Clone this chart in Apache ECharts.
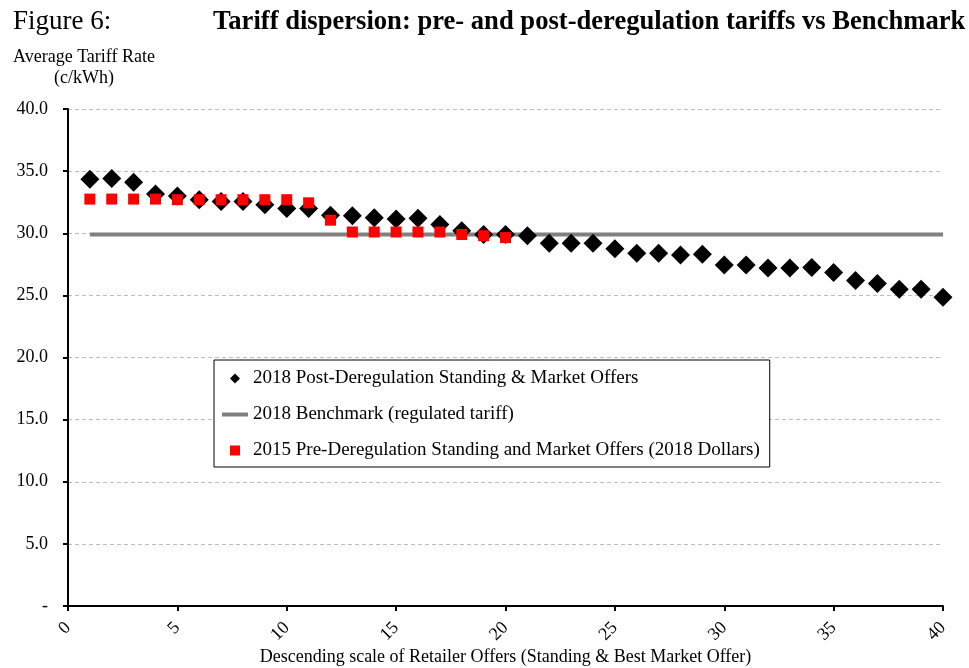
<!DOCTYPE html>
<html>
<head>
<meta charset="utf-8">
<script src="https://cdn.jsdelivr.net/npm/echarts@6/dist/echarts.min.js"></script>
<style>
html,body{margin:0;padding:0;background:#fff;}
#chart{width:969px;height:668px;}
</style>
</head>
<body>
<div id="chart"></div>
<script>
// Data
var offers2018 = [34.35, 34.4, 34.1, 33.15, 33.0, 32.7, 32.55, 32.55, 32.3, 32.0,
                  32.0, 31.45, 31.4, 31.25, 31.15, 31.2, 30.7, 30.2, 29.9, 29.9,
                  29.8, 29.2, 29.2, 29.2, 28.75, 28.4, 28.4, 28.25, 28.3, 27.45,
                  27.45, 27.2, 27.2, 27.25, 26.85, 26.2, 25.95, 25.5, 25.5, 24.85];
var offers2015 = [32.75, 32.75, 32.75, 32.75, 32.7, 32.7, 32.7, 32.7, 32.7, 32.7,
                  32.45, 31.05, 30.1, 30.1, 30.1, 30.1, 30.1, 29.9, 29.8, 29.65];
var benchmarkValue = 29.9;
var benchmarkRange = [1, 40];
var seriesNames = [
  '2018 Post-Deregulation Standing & Market Offers',
  '2018 Benchmark (regulated tariff)',
  '2015 Pre-Deregulation Standing and Market Offers (2018 Dollars)'
];

function toPoints(arr){ return arr.map(function(v,i){ return [i+1, v]; }); }

var serif = '"Liberation Serif","Times New Roman",serif';
var chart = echarts.init(document.getElementById('chart'));
chart.setOption({
  backgroundColor: '#ffffff',
  animation: false,
  textStyle: { fontFamily: serif, color: '#000' },
  title: [
    { text: 'Figure 6:', left: 8, top: 3, textStyle: { fontFamily: serif, fontSize: 27, fontWeight: 'normal', color: '#000' } },
    { text: 'Tariff dispersion: pre- and post-deregulation tariffs vs Benchmark', left: 208, top: 4,
      textStyle: { fontFamily: serif, fontSize: 26.6, fontWeight: 'bold', color: '#000' } },
    { text: 'Average Tariff Rate', left: 8, top: 43, textStyle: { fontFamily: serif, fontSize: 18, fontWeight: 'normal', color: '#000' } },
    { text: '(c/kWh)', left: 49, top: 64, textStyle: { fontFamily: serif, fontSize: 18, fontWeight: 'normal', color: '#000' } }
  ],
  grid: { left: 68, right: 26, top: 109, bottom: 62, outerBoundsMode: 'none', containLabel: false },
  legend: {
    orient: 'vertical',
    left: 214, top: 360,
    backgroundColor: '#fff',
    borderColor: '#000', borderWidth: 1,
    padding: [9, 10, 7, 8],
    itemGap: 17,
    itemWidth: 26, itemHeight: 10,
    symbolKeepAspect: true,
    textStyle: { fontFamily: serif, fontSize: 19, color: '#000' },
    data: [
      { name: seriesNames[0], icon: 'path://M5,0L10,5L5,10L0,5Z' },
      { name: seriesNames[1], icon: 'path://M0,0H26V4H0Z' },
      { name: seriesNames[2], icon: 'path://M0,0H10V10H0Z' }
    ]
  },
  xAxis: {
    type: 'value', min: 0, max: 40, interval: 5,
    name: 'Descending scale of Retailer Offers (Standing & Best Market Offer)',
    nameLocation: 'middle', nameGap: 42, nameMoveOverlap: false,
    nameTextStyle: { fontFamily: serif, fontSize: 18, color: '#000' },
    axisLine: { show: true, onZero: false, lineStyle: { color: '#000', width: 2 } },
    axisTick: { show: true, length: 5, lineStyle: { color: '#000', width: 2 } },
    axisLabel: { rotate: 45, margin: 19, fontFamily: serif, fontSize: 18, color: '#000' },
    splitLine: { show: false }
  },
  yAxis: {
    type: 'value', min: 0, max: 40, interval: 5,
    axisLine: { show: true, lineStyle: { color: '#000', width: 2 } },
    axisTick: { show: true, length: 5, lineStyle: { color: '#000', width: 2 } },
    axisLabel: { margin: 20, fontFamily: serif, fontSize: 18, color: '#000',
      formatter: function(v){ return v === 0 ? '-' : v.toFixed(1); } },
    splitLine: { show: true, lineStyle: { color: '#bdbdbd', type: [4, 3], width: 1 } }
  },
  series: [
    {
      name: seriesNames[1], type: 'line', z: 1,
      data: benchmarkRange.map(function(x){ return [x, benchmarkValue]; }),
      symbol: 'none', silent: true,
      lineStyle: { color: '#808080', width: 4 },
      itemStyle: { color: '#808080' }
    },
    {
      name: seriesNames[0], type: 'scatter', z: 2,
      symbol: 'diamond', symbolSize: 19,
      data: toPoints(offers2018),
      itemStyle: { color: '#000', opacity: 1 }
    },
    {
      name: seriesNames[2], type: 'scatter', z: 3,
      symbol: 'rect', symbolSize: 11,
      data: toPoints(offers2015),
      itemStyle: { color: '#ff0000', opacity: 1 }
    }
  ]
});
</script>
</body>
</html>
